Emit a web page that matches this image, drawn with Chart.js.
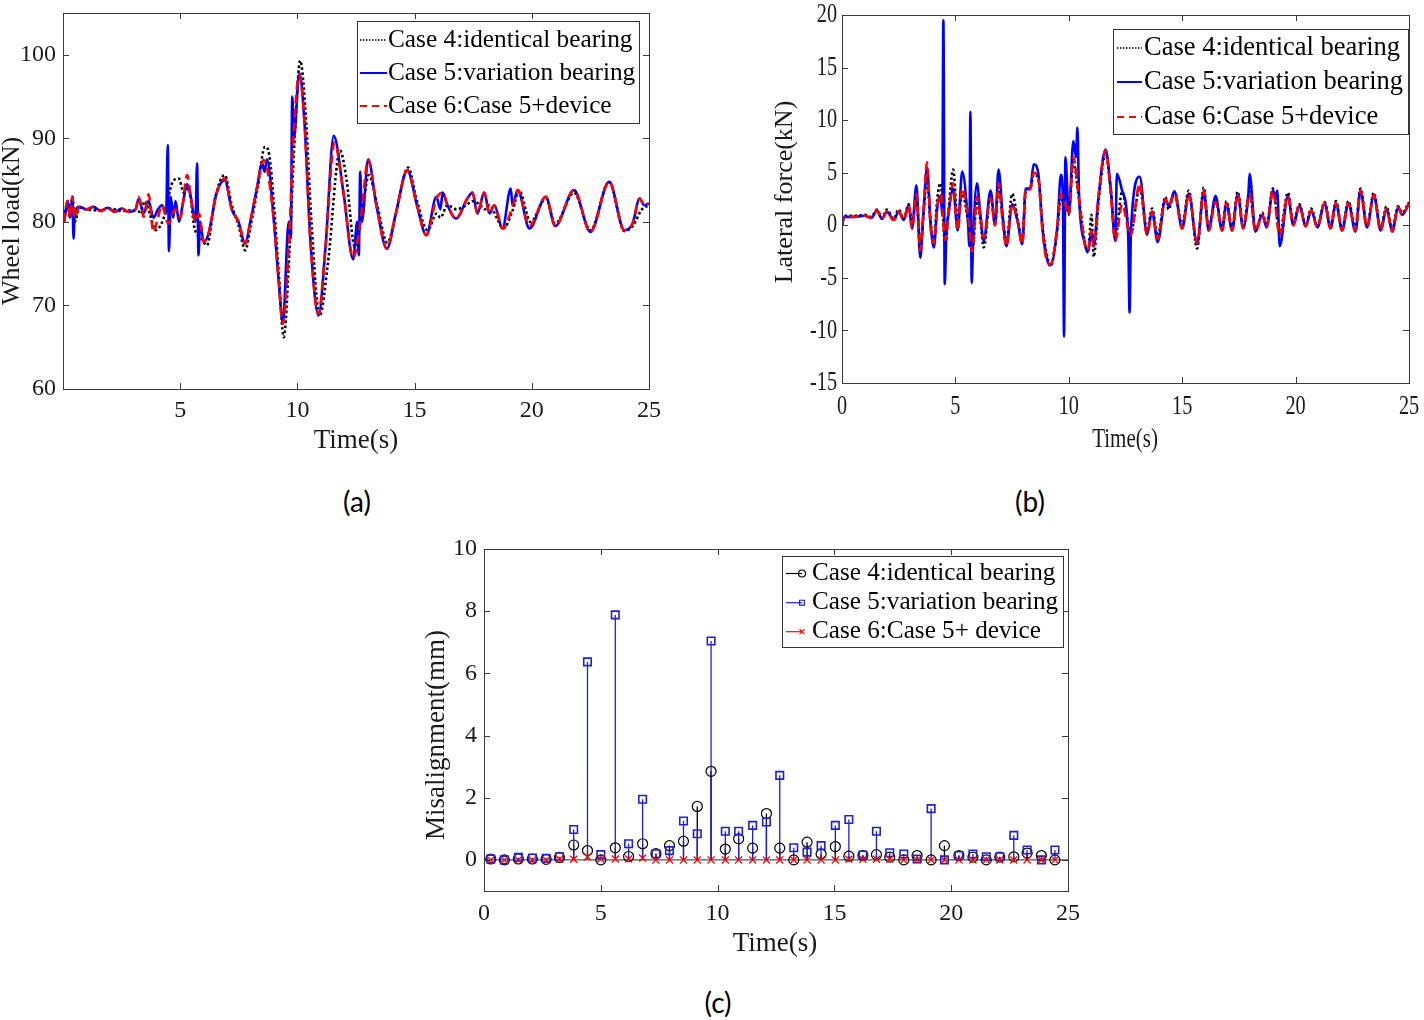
<!DOCTYPE html>
<html>
<head>
<meta charset="utf-8">
<script src="https://cdn.jsdelivr.net/npm/chart.js@4.4.1/dist/chart.umd.min.js"></script>
<style>
  body { margin: 0; background: #fff; width: 1424px; height: 1020px; position: relative; overflow: hidden; }
  canvas { position: absolute; }
  .tag { position: absolute; font: 28px Lato, "Open Sans", sans-serif; color: #000; transform: translate(-50%, -50%); }
</style>
</head>
<body>
<canvas id="chartA" width="700" height="470" style="left:0;top:0"></canvas>
<canvas id="chartB" width="724" height="470" style="left:700px;top:0"></canvas>
<canvas id="chartC" width="720" height="450" style="left:390px;top:530px"></canvas>
<div class="tag" style="left:357px;top:501px">(a)</div>
<div class="tag" style="left:1030px;top:501px">(b)</div>
<div class="tag" style="left:718px;top:1002px">(c)</div>
<script>
// ---- (a) wheel load, kN ----
const timeA4 = [0.05,0.2,0.3,0.4,0.5,0.7,1.0,1.5,2.0,2.5,
  3.0,3.3,3.5,3.7,3.95,4.3,4.65,4.94,5.15,5.37,
  5.6,5.9,6.14,6.5,6.9,7.2,7.5,7.77,8.0,8.3,
  8.62,8.8,9.0,9.2,9.42,9.65,9.9,10.12,10.35,10.6,
  10.95,11.3,11.82,12.1,12.45,12.75,13.05,13.4,13.84,14.2,
  14.72,15.1,15.55,15.95,16.1,16.4,16.8,17.2,17.5,17.8,
  18.0,18.2,18.5,18.78,19.2,19.45,19.95,20.6,21.0,21.8,
  22.5,23.3,23.95,24.3,24.7,25];
const loadA4 = [80.5,82.5,80.5,83,80,81.7,81.5,81.4,81.6,81.3,
  81.4,81.2,82.5,81,79,80.5,84.6,85.2,83.5,84,
  79.4,78,77.2,83,85.6,82,79.5,76.6,79.5,84,
  89,88,82,74,66.2,76,91,99.3,93,80,
  68.8,75,88.5,85,77,81,85.6,82,77.5,81,
  86.5,82.5,79,81,80.5,82,81.5,82,82.5,82,
  81.5,82,80.5,79.2,81.5,83.8,80,82.8,79.8,83.5,
  79,84.8,78.9,79.5,81.5,82];

const timeA5 = [0.05,0.2,0.3,0.4,0.45,0.5,0.7,1.0,1.3,1.6,
  1.9,2.2,2.5,2.8,3.1,3.23,3.44,3.65,3.86,4.05,
  4.22,4.4,4.47,4.52,4.6,4.7,4.8,4.95,5.1,5.3,
  5.45,5.65,5.72,5.78,5.85,6.0,6.2,6.55,6.9,7.2,
  7.49,7.77,7.99,8.27,8.5,8.6,8.7,9.0,9.2,9.38,
  9.63,9.72,9.78,9.85,10.08,10.3,10.55,10.9,11.2,11.55,
  11.97,12.38,12.55,12.62,12.68,12.75,13.02,13.37,13.82,14.2,
  14.69,15.1,15.5,15.93,16.1,16.2,16.4,16.77,17.25,17.47,
  17.68,17.97,18.2,18.4,18.75,19.1,19.18,19.4,19.9,20.6,
  21.0,21.8,22.5,23.3,23.95,24.3,24.6,24.8,25];
const loadA5 = [80,82.5,80.5,83,78,81,81.8,81.5,81.8,81.3,
  81.7,81.2,81.6,81.2,81.5,82.8,81,82.5,80.5,81.5,
  82,81,89.2,76.5,83,80.5,82.5,80,82,84.5,
  83,80,87,76,80,77.6,78.5,83.4,85,81.5,
  80,77.4,80,84,87,86,87.5,80,73,68,
  80,78,95,90,97.8,92,78,68.8,77,90.3,
  83.4,75.5,80,76,86,80,87.5,82,76.8,81,
  86.2,82,78.4,83,81.5,83.5,82,80.4,82.8,83.5,
  81,83.5,81,82,79.2,84,82,83.8,79.2,83,
  79.5,83.8,78.8,84.8,79,79.8,82.8,82,82.2];

const timeA6 = [0.05,0.2,0.3,0.4,0.5,0.7,1.0,1.3,1.6,1.9,
  2.2,2.5,2.8,3.1,3.23,3.44,3.65,3.86,4.05,4.22,
  4.5,4.79,5.0,5.3,5.45,5.65,5.8,6.0,6.2,6.55,
  6.9,7.2,7.49,7.77,7.99,8.27,8.55,8.7,9.0,9.2,
  9.38,9.63,9.85,10.08,10.3,10.55,10.9,11.2,11.58,11.97,
  12.38,12.7,13.02,13.37,13.82,14.2,14.69,15.1,15.5,15.93,
  16.2,16.4,16.77,17.25,17.47,17.68,17.97,18.2,18.4,18.75,
  19.2,19.4,19.9,20.6,21.0,21.8,22.5,23.3,23.95,24.3,
  24.6,24.8,25];
const loadA6 = [80,82.5,80.5,83,80.5,81.8,81.5,81.8,81.3,81.7,
  81.2,81.6,81.2,81.5,83,80.6,83.3,78.8,80.5,82,
  79.8,81.5,80.5,85.6,83,80,81,77.6,78.5,83.4,
  85.2,81.5,80,77.4,80,84,87.4,86.5,80,73,
  67.8,77,91,97.6,92,78,69,77,89.5,83.4,
  75.7,80.2,87.4,82,76.8,81,86.2,82,78.4,82.8,
  83.5,82,80.4,82.8,83.5,81,83.5,81,82,79.2,
  82,83.8,79.5,83,79.5,83.8,78.8,84.8,79,79.8,
  82.8,82,82.2];

const timeTicksA = [5, 10, 15, 20, 25];
const loadTicks = [60, 70, 80, 90, 100];

// ---- (b) lateral force, kN ----
const timeB = [0,0.1,0.5,1.0,1.3,1.54,1.76,1.98,2.28,2.5,
  2.72,2.94,3.09,3.28,3.45,3.6,3.75,3.9,4.05,4.2,
  4.35,4.55,4.72,4.9,5.1,5.3,5.55,5.75,5.95,6.1,
  6.25,6.55,6.75,6.9,7.1,7.25,7.5,7.75,7.95,8.1,
  8.3,8.45,8.65,8.85,9.05,9.2,9.5,9.65,9.75,9.85,
  10.0,10.2,10.45,10.7,10.85,11.0,11.1,11.3,11.62,11.85,
  12.05,12.35,12.72,13.13,13.45,13.67,13.92,14.26,14.4,14.66,
  15.0,15.29,15.66,15.95,16.17,16.47,16.76,16.95,17.2,17.45,
  17.69,17.97,18.23,18.53,18.72,19.0,19.3,19.66,19.9,20.17,
  20.44,20.69,20.96,21.28,21.54,21.78,22.05,22.33,22.64,22.86,
  23.15,23.45,23.75,24.01,24.26,24.52,24.7,25];
const forceB4 = [0,0.9,0.9,1.0,0.8,1.5,0.7,1.5,0.6,1.5,
  0.6,2.0,0.2,2.5,-1.8,1.2,4.5,0.5,-1.5,2.5,
  4.0,-1.8,2.0,5.3,0.5,3.0,0.5,-2.3,2.3,0.5,
  -2.1,3.0,0.2,3.6,0.5,-1.8,3.0,0.5,-1.5,3.2,
  3.5,4.8,4.5,-0.3,-3.0,-3.9,-0.2,2.6,2.2,2.0,
  1.2,6.0,2.5,-1.5,-2.6,1.0,-3.0,2.0,6.8,3.3,
  -1.2,3.2,-0.8,3.6,-0.5,1.6,-1.0,2.7,1.5,3.2,
  0,3.3,-2.2,3.6,-0.3,2.5,-0.3,2.3,-0.3,3.2,
  -0.2,3.2,-0.5,1.2,0,3.5,-0.8,3.1,0.2,2.0,
  0,1.6,-0.1,2.2,-0.1,2.3,-0.3,2.3,-0.3,3.5,
  0,3.1,-0.3,1.8,-0.4,1.8,1.2,2.2];
const forceB6 = [0,0.8,0.8,0.9,0.7,1.4,0.6,1.3,0.5,1.3,
  0.5,1.9,-0.3,3.0,-2.4,1.5,6.0,0,-1.7,1.7,
  3.0,-1.4,1.5,4.0,-0.5,3.5,1.0,-2.5,2.7,1.0,
  -1.2,2.6,0,4.0,0,-2.0,2.0,0.3,-1.8,3.5,
  3.4,5.0,4.5,-0.8,-3.5,-3.7,0,3.0,2.5,2.0,
  1.0,6.5,2.5,-1.7,-2.4,-0.5,-2.0,2.5,7.1,3.0,
  -1.5,2.0,-1.0,4.0,-0.9,1.3,-1.3,2.5,1.8,3.0,
  -0.3,3.0,-1.7,3.2,-0.5,2.2,-0.5,2.1,-0.5,3.0,
  -0.3,3.0,-0.6,1.0,-0.2,3.3,-1.0,2.8,0,1.9,
  -0.1,1.4,-0.2,2.1,-0.3,2.1,-0.5,2.1,-0.5,3.3,
  -0.2,2.9,-0.5,1.6,-0.6,1.7,1.0,2.1];

const timeB5 = [0,0.1,0.5,1.0,1.3,1.54,1.76,1.98,2.28,2.5,
  2.72,2.94,3.09,3.28,3.45,3.6,3.75,3.9,4.05,4.2,
  4.35,4.42,4.47,4.53,4.6,4.72,4.9,5.1,5.3,5.55,
  5.62,5.66,5.72,5.78,5.95,6.1,6.25,6.55,6.75,6.9,
  7.1,7.25,7.5,7.75,7.95,8.1,8.3,8.45,8.65,8.85,
  9.05,9.2,9.5,9.65,9.74,9.79,9.85,10.0,10.2,10.32,
  10.38,10.45,10.7,10.85,11.0,11.1,11.3,11.62,11.85,12.05,
  12.12,12.35,12.62,12.68,12.74,13.13,13.45,13.67,13.92,14.26,
  14.4,14.66,15.0,15.29,15.66,15.95,16.17,16.47,16.76,16.95,
  17.2,17.45,17.69,17.92,17.97,18.23,18.53,18.72,19.0,19.14,
  19.19,19.3,19.66,19.9,20.17,20.44,20.69,20.96,21.28,21.54,
  21.78,22.05,22.33,22.64,22.86,23.15,23.45,23.75,24.01,24.26,
  24.52,24.7,25];
const forceB5 = [0,0.8,0.8,0.9,0.7,1.4,0.6,1.3,0.5,1.3,
  0.5,1.9,-0.3,3.8,-3.1,1.5,5.5,0.3,-2.1,1.7,
  2.8,1.0,19.5,-5.6,-1.0,1.5,3.5,-0.5,5.1,0.5,
  -2.0,10.8,-5.5,-1.5,4.0,1.0,-1.5,3.3,0,5.3,
  0.5,-2.0,2.0,0.3,-1.8,3.5,3.5,5.8,5.0,-0.5,
  -3.3,-3.8,0,4.8,2.5,-10.6,6.5,1.0,8.0,6.5,
  9.3,3.0,-1.7,-2.5,-0.5,-2.0,2.5,7.2,3.5,-1.5,
  4.9,3.3,-1.0,-8.3,-0.5,4.6,-0.9,1.3,-1.6,2.5,
  1.8,3.2,-0.3,3.0,-1.8,3.2,-0.5,2.8,-0.5,2.1,
  -0.5,3.0,-0.3,3.0,4.9,-0.6,1.0,-0.2,3.3,2.5,
  3.3,-2.0,2.8,0,1.9,-0.1,1.4,-0.2,2.1,-0.3,
  2.1,-0.5,2.1,-0.6,3.3,-0.2,2.9,-0.5,1.6,-0.6,
  1.7,1.0,2.1];

const timeTicksB = [0, 5, 10, 15, 20, 25];
const forceTicks = [-15, -10, -5, 0, 5, 10, 15, 20];

// ---- (c) misalignment, mm ----
const stemTime = [0.29,0.87,1.47,2.07,2.66,3.23,3.84,4.43,5.0,5.62,
  6.19,6.79,7.36,7.94,8.54,9.13,9.72,10.33,10.9,11.5,
  12.09,12.66,13.26,13.83,14.43,15.04,15.62,16.22,16.8,17.37,
  17.97,18.54,19.14,19.71,20.33,20.93,21.5,22.08,22.68,23.25,
  23.86,24.44];
const misCase4 = [0.03,0,0.03,0.03,0.02,0.08,0.48,0.3,0,0.39,
  0.11,0.52,0.2,0.46,0.6,1.72,2.85,0.35,0.68,0.38,
  1.49,0.38,0,0.57,0.19,0.43,0.12,0.14,0.17,0.09,
  0,0.14,0,0.46,0.14,0.09,0,0.09,0.1,0.22,
  0.14,0];
const misCase5 = [0.03,0,0.08,0.06,0.05,0.1,0.98,6.37,0.17,7.88,
  0.52,1.95,0.2,0.3,1.25,0.84,7.04,0.92,0.92,1.11,
  1.22,2.72,0.39,0.25,0.46,1.11,1.3,0.16,0.92,0.23,
  0.19,0.03,1.65,0,0.14,0.19,0.1,0.1,0.79,0.32,
  0,0.32];
const misCase6 = [0,0,0,0,0,0.02,0.02,0.1,0.03,0.03,
  0.03,0.06,0,0,0,0,0,0,0,0,
  0,0,0,0,0,0,0.02,0.02,0.02,0.02,
  0,0,0,0,0,0,0,0,0,0,
  0,0];

const timeTicksC = [0, 5, 10, 15, 20, 25];
const misTicks = [0, 2, 4, 6, 8, 10];

const SERIF = '"Liberation Serif", "Times New Roman", serif';

function pairs(ts, vs) {
  return ts.map((t, i) => ({ x: t, y: vs[i] }));
}

// text with optional horizontal squeeze (panel b is squashed sideways)
function put(ctx, s, x, y, sx) {
  ctx.save();
  ctx.translate(x, y);
  ctx.scale(sx, 1);
  ctx.fillText(s, 0, 0);
  ctx.restore();
}

// matlab style box: inner ticks on all four sides, labels drawn by hand
function axesPlugin(cfg) {
  return {
    id: 'matlabAxes',
    afterDatasetsDraw(chart) {
      const ctx = chart.ctx, a = chart.chartArea;
      const xs = chart.scales.x, ys = chart.scales.y;
      ctx.save();
      ctx.strokeStyle = '#3a3a3a';
      ctx.lineWidth = 1;
      ctx.beginPath();
      cfg.xTicks.forEach(v => {
        const p = Math.round(xs.getPixelForValue(v)) + 0.5;
        ctx.moveTo(p, a.bottom); ctx.lineTo(p, a.bottom - 6);
        ctx.moveTo(p, a.top); ctx.lineTo(p, a.top + 6);
      });
      cfg.yTicks.forEach(v => {
        const p = Math.round(ys.getPixelForValue(v)) + 0.5;
        ctx.moveTo(a.left, p); ctx.lineTo(a.left + 6, p);
        ctx.moveTo(a.right, p); ctx.lineTo(a.right - 6, p);
      });
      ctx.stroke();
      ctx.strokeRect(Math.round(a.left) + 0.5, Math.round(a.top) + 0.5,
        Math.round(a.right - a.left), Math.round(a.bottom - a.top));

      ctx.fillStyle = '#1a1a1a';
      ctx.textBaseline = 'middle';
      ctx.font = cfg.tickSize + 'px ' + SERIF;
      ctx.textAlign = 'center';
      cfg.xTicks.forEach(v => put(ctx, String(v), xs.getPixelForValue(v), a.bottom + cfg.xGap, cfg.squeeze));
      ctx.textAlign = 'right';
      cfg.yTicks.forEach(v => put(ctx, String(v), a.left - cfg.yGap, ys.getPixelForValue(v), cfg.squeeze));

      ctx.textAlign = 'center';
      ctx.font = cfg.xTitleSize + 'px ' + SERIF;
      put(ctx, cfg.xTitle, cfg.xTitleAt[0], cfg.xTitleAt[1], cfg.squeeze);
      ctx.font = cfg.yTitleSize + 'px ' + SERIF;
      ctx.save();
      ctx.translate(cfg.yTitleAt[0], cfg.yTitleAt[1]);
      ctx.rotate(-Math.PI / 2);
      ctx.fillText(cfg.yTitle, 0, 0);
      ctx.restore();
      ctx.restore();
    }
  };
}

// boxed legend sitting inside the plot
function legendPlugin(cfg) {
  return {
    id: 'boxLegend',
    afterDraw(chart) {
      const ctx = chart.ctx;
      ctx.save();
      ctx.fillStyle = '#fff';
      ctx.fillRect(cfg.x, cfg.y, cfg.w, cfg.h);
      ctx.strokeStyle = '#333';
      ctx.lineWidth = 1;
      ctx.strokeRect(cfg.x + 0.5, cfg.y + 0.5, cfg.w, cfg.h);
      ctx.font = cfg.size + 'px ' + SERIF;
      ctx.textBaseline = 'middle';
      ctx.textAlign = 'left';
      chart.data.datasets.forEach((ds, i) => {
        const y = cfg.rows[i];
        ctx.strokeStyle = ds.borderColor;
        ctx.lineWidth = ds.legendWidth || 1.5;
        ctx.setLineDash(ds.legendDash || []);
        ctx.beginPath();
        ctx.moveTo(cfg.x0, y);
        ctx.lineTo(cfg.x1, y);
        ctx.stroke();
        ctx.setLineDash([]);
        if (cfg.marker) {
          ctx.fillStyle = 'rgba(0,0,0,0)';
          ctx.lineWidth = 1.2;
          Chart.helpers.drawPoint(ctx, { pointStyle: ds.pointStyle, radius: 3.5, borderWidth: 1.2, rotation: 0 }, cfg.markerX, y);
        }
        ctx.fillStyle = '#000';
        ctx.fillText(ds.label, cfg.textX, y);
      });
      ctx.restore();
    }
  };
}

// stems + zero baseline for panel c
const stemPlugin = {
  id: 'stems',
  beforeDatasetsDraw(chart) {
    const ctx = chart.ctx, a = chart.chartArea;
    const y0 = chart.scales.y.getPixelForValue(0);
    ctx.save();
    ctx.strokeStyle = '#555';
    ctx.lineWidth = 1.3;
    ctx.beginPath();
    ctx.moveTo(a.left, y0);
    ctx.lineTo(a.right, y0);
    ctx.stroke();
    chart.data.datasets.forEach((ds, i) => {
      const meta = chart.getDatasetMeta(i);
      ctx.strokeStyle = ds.borderColor;
      ctx.lineWidth = 1.3;
      ctx.beginPath();
      meta.data.forEach(pt => {
        ctx.moveTo(pt.x, y0);
        ctx.lineTo(pt.x, pt.y);
      });
      ctx.stroke();
    });
    ctx.restore();
  }
};

const baseOptions = (pad, xr, yr) => ({
  responsive: false,
  animation: false,
  events: [],
  layout: { padding: pad },
  plugins: { legend: { display: false }, tooltip: { enabled: false } },
  scales: {
    x: { type: 'linear', display: false, min: xr[0], max: xr[1] },
    y: { type: 'linear', display: false, min: yr[0], max: yr[1] }
  }
});

const lineStyle = { pointRadius: 0, borderWidth: 2.6, fill: false, cubicInterpolationMode: 'monotone' };

// (a)
new Chart(document.getElementById('chartA'), {
  type: 'line',
  data: {
    datasets: [
      { ...lineStyle, label: 'Case 4:identical bearing', data: pairs(timeA4, loadA4),
        borderColor: '#000', borderDash: [2.5, 2.5], order: 3, legendDash: [1.5, 1.5], legendWidth: 1.5 },
      { ...lineStyle, label: 'Case 5:variation bearing', data: pairs(timeA5, loadA5),
        borderColor: '#0000ff', order: 2, legendWidth: 2 },
      { ...lineStyle, label: 'Case 6:Case 5+device', data: pairs(timeA6, loadA6),
        borderColor: '#ff0000', borderDash: [9, 5], order: 1, legendDash: [7, 5], legendWidth: 2 }
    ]
  },
  options: baseOptions({ left: 63, top: 13, right: 51, bottom: 81 }, [0, 25], [60, 105]),
  plugins: [
    axesPlugin({ xTicks: timeTicksA, yTicks: loadTicks, tickSize: 24, xGap: 22, yGap: 7, squeeze: 1,
      xTitle: 'Time(s)', xTitleSize: 27, xTitleAt: [356, 441],
      yTitle: 'Wheel load(kN)', yTitleSize: 26, yTitleAt: [12, 221] }),
    legendPlugin({ x: 357, y: 21, w: 282, h: 102, rows: [40, 73, 106], x0: 360, x1: 387, textX: 388, size: 25.3 })
  ]
});

// (b)
new Chart(document.getElementById('chartB'), {
  type: 'line',
  data: {
    datasets: [
      { ...lineStyle, label: 'Case 4:identical bearing', data: pairs(timeB, forceB4),
        borderColor: '#000', borderDash: [2.5, 2.5], order: 3, legendDash: [1.5, 1.5], legendWidth: 1.5 },
      { ...lineStyle, label: 'Case 5:variation bearing', data: pairs(timeB5, forceB5),
        borderColor: '#0000ff', order: 2, legendWidth: 2 },
      { ...lineStyle, label: 'Case 6:Case 5+device', data: pairs(timeB, forceB6),
        borderColor: '#ff0000', borderDash: [9, 5], order: 1, legendDash: [7, 5], legendWidth: 2 }
    ]
  },
  options: baseOptions({ left: 142, top: 15, right: 15, bottom: 87 }, [0, 25], [-15, 20]),
  plugins: [
    axesPlugin({ xTicks: timeTicksB, yTicks: forceTicks, tickSize: 27, xGap: 24, yGap: 5, squeeze: 0.75,
      xTitle: 'Time(s)', xTitleSize: 28, xTitleAt: [425, 440],
      yTitle: 'Lateral force(kN)', yTitleSize: 26, yTitleAt: [85, 192] }),
    legendPlugin({ x: 413, y: 29, w: 295, h: 105, rows: [48, 82, 117], x0: 417, x1: 442, textX: 444, size: 26.5 })
  ]
});

// (c)
const markerStyle = { showLine: false, pointBackgroundColor: 'rgba(0,0,0,0)' };
new Chart(document.getElementById('chartC'), {
  type: 'scatter',
  data: {
    datasets: [
      { ...markerStyle, label: 'Case 4:identical bearing', data: pairs(stemTime, misCase4),
        borderColor: '#000', pointBorderColor: '#000', pointStyle: 'circle', pointRadius: 5, pointBorderWidth: 1.2, order: 3, legendWidth: 1.2 },
      { ...markerStyle, label: 'Case 5:variation bearing', data: pairs(stemTime, misCase5),
        borderColor: '#1f1fd8', pointBorderColor: '#1f1fd8', pointStyle: 'rect', pointRadius: 5.3, pointBorderWidth: 1.6, order: 2, legendWidth: 1.2 },
      { ...markerStyle, label: 'Case 6:Case 5+ device', data: pairs(stemTime, misCase6),
        borderColor: '#ff0000', pointBorderColor: '#ff0000', pointStyle: 'crossRot', pointRadius: 5, pointBorderWidth: 1.3, order: 1, legendWidth: 1.2 }
    ]
  },
  options: baseOptions({ left: 94, top: 19, right: 42, bottom: 89 }, [0, 25], [-1, 10]),
  plugins: [
    stemPlugin,
    axesPlugin({ xTicks: timeTicksC, yTicks: misTicks, tickSize: 24, xGap: 23, yGap: 7, squeeze: 1,
      xTitle: 'Time(s)', xTitleSize: 27, xTitleAt: [385, 414],
      yTitle: 'Misalignment(mm)', yTitleSize: 27, yTitleAt: [47, 205] }),
    legendPlugin({ x: 392, y: 26, w: 281, h: 91, rows: [43.5, 72.7, 101.7], x0: 396, x1: 412, marker: true, markerX: 412, textX: 422, size: 25.2 })
  ]
});
</script>
</body>
</html>
